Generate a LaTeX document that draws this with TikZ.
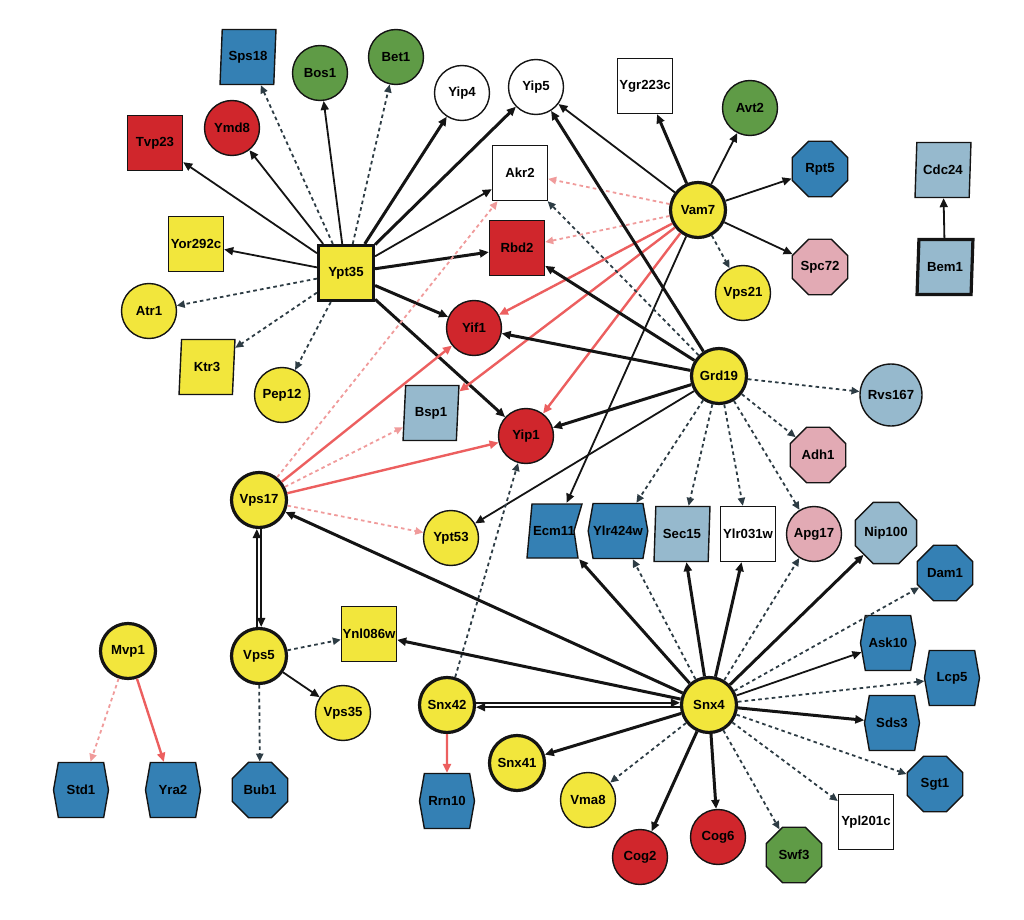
\documentclass[tikz,border=0pt]{standalone}
\usepackage{fontspec}
\setmainfont{Liberation Sans}
\usetikzlibrary{arrows.meta,shapes.geometric,shapes.symbols}
\definecolor{cy}{RGB}{242,230,60}
\definecolor{cr}{RGB}{208,38,44}
\definecolor{cg}{RGB}{95,155,70}
\definecolor{cb}{RGB}{52,128,180}
\definecolor{cl}{RGB}{150,185,205}
\definecolor{cp}{RGB}{226,170,180}
\definecolor{ck}{RGB}{20,20,20}
\definecolor{cd}{RGB}{45,60,68}
\definecolor{ce}{RGB}{236,95,95}
\definecolor{cf}{RGB}{240,155,155}
\begin{document}
\begin{tikzpicture}[x=0.5pt,y=-0.5pt,
 every node/.style={font=\bfseries\fontsize{6.6}{7}\selectfont, inner sep=0pt, draw=ck, line width=0.7pt},
 ncirc/.style={circle, minimum size=27.5pt},
 nsq/.style={rectangle, minimum size=27.5pt},
 npar/.style={trapezium, trapezium left angle=82, trapezium right angle=98, trapezium stretches=true, minimum width=28pt, minimum height=27.5pt},
 noct/.style={regular polygon, regular polygon sides=8, minimum size=30pt},
 nhex/.style={signal, signal to=west and east, signal pointer angle=160, minimum width=27.5pt, minimum height=27.5pt},
 hub/.style={line width=1.6pt},
 arr/.style={-{Triangle[length=4.5pt,width=4pt]}},
 ln/.style={arr, draw=ck, line width=0.9pt},
 lnt/.style={arr, draw=ck, line width=1.5pt},
 lnd/.style={-{Triangle[length=4pt,width=3.6pt]}, draw=cd, line width=0.9pt, dash pattern=on 1.8pt off 1.6pt},
 lnr/.style={arr, draw=ce, line width=1.2pt},
 lnrd/.style={-{Triangle[length=4pt,width=3.6pt]}, draw=cf, line width=0.9pt, dash pattern=on 1.8pt off 1.6pt},
]
\useasboundingbox (0,0) rectangle (1024,920);
% nodes
\node[nsq,hub,fill=cy] (Ypt35) at (346,273) {Ypt35};
\node[npar,fill=cb] (Sps18) at (248,57) {Sps18};
\node[ncirc,fill=cg] (Bos1) at (320,73) {Bos1};
\node[ncirc,fill=cg] (Bet1) at (396,57) {Bet1};
\node[ncirc,fill=white] (Yip4) at (462,93) {Yip4};
\node[ncirc,fill=white] (Yip5) at (536,87) {Yip5};
\node[nsq,fill=white] (Ygr223c) at (645,86) {Ygr223c};
\node[ncirc,fill=cg] (Avt2) at (750,108) {Avt2};
\node[noct,fill=cb] (Rpt5) at (820,169) {Rpt5};
\node[npar,fill=cl] (Cdc24) at (943,170) {Cdc24};
\node[npar,hub,fill=cl] (Bem1) at (945,267) {Bem1};
\node[noct,fill=cp] (Spc72) at (820,267) {Spc72};
\node[ncirc,fill=cy] (Vps21) at (743,293) {Vps21};
\node[ncirc,hub,fill=cy] (Vam7) at (698,210) {Vam7};
\node[nsq,fill=white] (Akr2) at (520,173) {Akr2};
\node[nsq,fill=cr] (Rbd2) at (517,248) {Rbd2};
\node[nsq,fill=cr] (Tvp23) at (155,143) {Tvp23};
\node[ncirc,fill=cr] (Ymd8) at (232,128) {Ymd8};
\node[nsq,fill=cy] (Yor292c) at (196,244) {Yor292c};
\node[ncirc,fill=cy] (Atr1) at (149,311) {Atr1};
\node[npar,fill=cy] (Ktr3) at (207,367) {Ktr3};
\node[ncirc,fill=cy] (Pep12) at (282,395) {Pep12};
\node[ncirc,fill=cr] (Yif1) at (474,328) {Yif1};
\node[npar,fill=cl] (Bsp1) at (431,413) {Bsp1};
\node[ncirc,fill=cr] (Yip1) at (526,436) {Yip1};
\node[ncirc,hub,fill=cy] (Vps17) at (259,500) {Vps17};
\node[ncirc,fill=cy] (Ypt53) at (451,538) {Ypt53};
\node[ncirc,hub,fill=cy] (Grd19) at (719,376) {Grd19};
\node[ncirc,fill=cl,minimum size=31pt] (Rvs167) at (891,395) {Rvs167};
\node[noct,fill=cp] (Adh1) at (818,455) {Adh1};
\filldraw[fill=cb, draw=ck, line width=0.7pt] (532,504) -- (582,504) -- (574,531) -- (578,558) -- (527,558) -- cycle;
\node[nsq,draw=none] (Ecm11) at (554,531) {Ecm11};
\node[nhex,fill=cb] (Ylr424w) at (618,531) {Ylr424w};
\node[npar,fill=cl] (Sec15) at (682,534) {Sec15};
\node[nsq,fill=white] (Ylr031w) at (748,534) {Ylr031w};
\node[ncirc,fill=cp] (Apg17) at (814,534) {Apg17};
\node[noct,fill=cl] (Nip100) at (886,533) {Nip100};
\node[noct,fill=cb] (Dam1) at (945,573) {Dam1};
\node[nhex,fill=cb] (Ask10) at (888,643) {Ask10};
\node[nhex,fill=cb] (Lcp5) at (952,678) {Lcp5};
\node[nhex,fill=cb] (Sds3) at (892,723) {Sds3};
\node[noct,fill=cb] (Sgt1) at (935,784) {Sgt1};
\node[nsq,fill=white] (Ypl201c) at (866,822) {Ypl201c};
\node[noct,fill=cg] (Swf3) at (794,855) {Swf3};
\node[ncirc,fill=cr] (Cog6) at (718,837) {Cog6};
\node[ncirc,fill=cr] (Cog2) at (640,857) {Cog2};
\node[ncirc,fill=cy] (Vma8) at (588,800) {Vma8};
\node[ncirc,hub,fill=cy] (Snx41) at (517,763) {Snx41};
\node[ncirc,hub,fill=cy] (Snx4) at (709,705) {Snx4};
\node[ncirc,hub,fill=cy] (Mvp1) at (128,651) {Mvp1};
\node[ncirc,hub,fill=cy] (Vps5) at (259,656) {Vps5};
\node[nsq,fill=cy] (Ynl086w) at (369,634) {Ynl086w};
\node[ncirc,fill=cy] (Vps35) at (343,713) {Vps35};
\node[ncirc,hub,fill=cy] (Snx42) at (447,705) {Snx42};
\node[nhex,fill=cb] (Std1) at (81,790) {Std1};
\node[nhex,fill=cb] (Yra2) at (173,790) {Yra2};
\node[noct,fill=cb] (Bub1) at (260,790) {Bub1};
\node[nhex,fill=cb] (Rrn10) at (447,801) {Rrn10};
% Ypt35 edges
\draw[ln] (Ypt35) -- (Tvp23);
\draw[ln] (Ypt35) -- (Ymd8);
\draw[lnd] (Ypt35) -- (Sps18);
\draw[ln] (Ypt35) -- (Bos1);
\draw[lnd] (Ypt35) -- (Bet1);
\draw[lnt] (Ypt35) -- (Yip4);
\draw[lnt] (Ypt35) -- (Yip5);
\draw[ln] (Ypt35) -- (Akr2);
\draw[lnt] (Ypt35) -- (Rbd2);
\draw[lnt] (Ypt35) -- (Yif1);
\draw[lnt] (Ypt35) -- (Yip1);
\draw[ln] (Ypt35) -- (Yor292c);
\draw[lnd] (Ypt35) -- (Atr1);
\draw[lnd] (Ypt35) -- (Ktr3);
\draw[lnd] (Ypt35) -- (Pep12);
% Vam7 edges
\draw[ln] (Vam7) -- (Yip5);
\draw[lnt] (Vam7) -- (Ygr223c);
\draw[ln] (Vam7) -- (Avt2);
\draw[ln] (Vam7) -- (Rpt5);
\draw[ln] (Vam7) -- (Spc72);
\draw[lnd] (Vam7) -- (Vps21);
\draw[lnrd] (Vam7) -- (Akr2);
\draw[lnrd] (Vam7) -- (Rbd2);
\draw[lnr] (Vam7) -- (Yif1);
\draw[lnr] (Vam7) -- (Bsp1);
\draw[lnr] (Vam7) -- (Yip1);
\draw[ln] (Vam7) -- (Ecm11);
% Grd19 edges
\draw[lnt] (Grd19) -- (Yip5);
\draw[lnt] (Grd19) -- (Rbd2);
\draw[lnt] (Grd19) -- (Yif1);
\draw[lnt] (Grd19) -- (Yip1);
\draw[lnd] (Grd19) -- (Akr2);
\draw[ln] (Grd19) -- (Ypt53);
\draw[lnd] (Grd19) -- (Rvs167);
\draw[lnd] (Grd19) -- (Adh1);
\draw[lnd] (Grd19) -- (Ylr424w);
\draw[lnd] (Grd19) -- (Sec15);
\draw[lnd] (Grd19) -- (Ylr031w);
\draw[lnd] (Grd19) -- (Apg17);
% Vps17 edges
\draw[lnr] (Vps17) -- (Yif1);
\draw[lnr] (Vps17) -- (Yip1);
\draw[lnrd] (Vps17) -- (Akr2);
\draw[lnrd] (Vps17) -- (Bsp1);
\draw[lnrd] (Vps17) -- (Ypt53);
\draw[ln, transform canvas={xshift=-1.1pt}] (Vps5) -- (Vps17);
\draw[ln, transform canvas={xshift=1.1pt}] (Vps17) -- (Vps5);
% Vps5, Mvp1, Snx42, Bem1
\draw[lnd] (Vps5) -- (Ynl086w);
\draw[ln] (Vps5) -- (Vps35);
\draw[lnd] (Vps5) -- (Bub1);
\draw[lnrd] (Mvp1) -- (Std1);
\draw[lnr] (Mvp1) -- (Yra2);
\draw[lnr] (Snx42) -- (Rrn10);
\draw[lnd] (Snx42) -- (Yip1);
\draw[ln, transform canvas={yshift=1.1pt}] (Snx42) -- (Snx4);
\draw[ln, transform canvas={yshift=-1.1pt}] (Snx4) -- (Snx42);
\draw[ln] (Bem1) -- (Cdc24);
% Snx4 edges
\draw[lnt] (Snx4) -- (Ynl086w);
\draw[lnt] (Snx4) -- (Vps17);
\draw[lnt] (Snx4) -- (Ecm11);
\draw[lnd] (Snx4) -- (Ylr424w);
\draw[lnt] (Snx4) -- (Sec15);
\draw[lnt] (Snx4) -- (Ylr031w);
\draw[lnd] (Snx4) -- (Apg17);
\draw[lnt] (Snx4) -- (Nip100);
\draw[lnd] (Snx4) -- (Dam1);
\draw[ln] (Snx4) -- (Ask10);
\draw[lnd] (Snx4) -- (Lcp5);
\draw[lnt] (Snx4) -- (Sds3);
\draw[lnd] (Snx4) -- (Sgt1);
\draw[lnd] (Snx4) -- (Ypl201c);
\draw[lnd] (Snx4) -- (Swf3);
\draw[lnt] (Snx4) -- (Cog6);
\draw[lnt] (Snx4) -- (Cog2);
\draw[lnd] (Snx4) -- (Vma8);
\draw[lnt] (Snx4) -- (Snx41);
\end{tikzpicture}
\end{document}
